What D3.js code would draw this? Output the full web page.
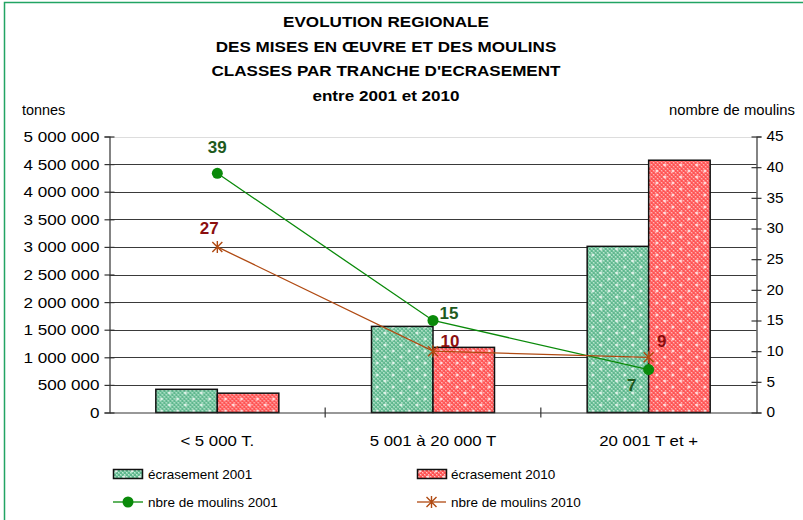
<!DOCTYPE html>
<html>
<head>
<meta charset="utf-8">
<script src="https://cdn.jsdelivr.net/npm/d3@7"></script>
<style>
  body { margin: 0; background: #fff; }
  text { font-family: "Liberation Sans", Arial, sans-serif; }
</style>
</head>
<body>
<script>
// Chart data
var categories = ["< 5 000 T.", "5 001 à 20 000 T", "20 001 T et +"];
var crush2001 = [420000, 1560000, 3010000];
var crush2010 = [350000, 1180000, 4570000];
var mills2001 = [39, 15, 7];
var mills2010 = [27, 10, 9];
var leftTicks = [0, 500000, 1000000, 1500000, 2000000, 2500000, 3000000, 3500000, 4000000, 4500000, 5000000];
var rightTicks = [0, 5, 10, 15, 20, 25, 30, 35, 40, 45];
var titleLines = ["EVOLUTION REGIONALE", "DES MISES EN ŒUVRE ET DES MOULINS",
                  "CLASSES PAR TRANCHE D'ECRASEMENT", "entre 2001 et 2010"];

var width = 803, height = 520;
var plot_left = 109.5, plot_right = 756.5, plot_top = 136.5, plot_bottom = 412.5;
var stretch = 1.22; // tick & title text looks horizontally stretched in the reference

var svg = d3.select("body").append("svg")
    .attr("width", width).attr("height", height);

// patterns for the bars
var defs = svg.append("defs");
function make_pattern(id, base, dark, light) {
    var p = defs.append("pattern").attr("id", id)
        .attr("patternUnits", "userSpaceOnUse")
        .attr("width", 16).attr("height", 12);
    p.append("rect").attr("width", 16).attr("height", 12).attr("fill", base);
    for (var i = 0; i < 8; i++) {
        for (var j = 0; j < 6; j++) {
            if ((i + j) % 2 == 0) {
                p.append("rect").attr("x", i * 2).attr("y", j * 2)
                    .attr("width", 2).attr("height", 2).attr("fill", dark);
            } else {
                p.append("rect").attr("x", i * 2).attr("y", j * 2)
                    .attr("width", 1).attr("height", 1).attr("fill", light);
            }
        }
    }
    // white crosses
    [[4, 3], [12, 9]].forEach(function (c) {
        p.append("rect").attr("x", c[0] - 1.5).attr("y", c[1] - 0.5).attr("width", 3).attr("height", 1).attr("fill", "#fff");
        p.append("rect").attr("x", c[0] - 0.5).attr("y", c[1] - 1.5).attr("width", 1).attr("height", 3).attr("fill", "#fff");
    });
}
make_pattern("pat-green", "#8ed1b0", "#5fb78e", "#c0e7d3");
make_pattern("pat-red", "#ff7a7a", "#ff5252", "#ffc0c0");

// frame
svg.append("rect").attr("x", 4.5).attr("y", 2.5)
    .attr("width", 900).attr("height", 600)
    .attr("fill", "none").attr("stroke", "#22a463").attr("stroke-width", 1.5);

// scales
var x = d3.scaleBand().domain(categories).range([plot_left, plot_right]);
var xs = d3.scaleBand().domain(["2001", "2010"])
    .range([x.bandwidth() / 2 - 61.5, x.bandwidth() / 2 + 61.5]);
var yL = d3.scaleLinear().domain([0, 5000000]).range([plot_bottom, plot_top]);
var yR = d3.scaleLinear().domain([0, 45]).range([plot_bottom, plot_top]);

var locale = d3.formatLocale({ decimal: ",", thousands: " ", grouping: [3], currency: ["", "€"] });
var fmt = locale.format(",d");

function put_text(g, px, py, txt, anchor, sx) {
    return g.append("text")
        .attr("transform", "translate(" + px + "," + py + ") scale(" + sx + ",1)")
        .attr("text-anchor", anchor)
        .text(txt);
}

// title
titleLines.forEach(function (t, i) {
    put_text(svg, 386, 27 + i * 24.7, t, "middle", stretch)
        .style("font-size", "14px").style("font-weight", "bold");
});
put_text(svg, 22, 115, "tonnes", "start", 1.03).style("font-size", "14px");
put_text(svg, 795, 115, "nombre de moulins", "end", 1.06).style("font-size", "14px");

// gridlines
svg.append("g").selectAll("line").data(leftTicks.filter(function (d) { return d > 0; }))
    .join("line")
    .attr("x1", plot_left).attr("x2", plot_right)
    .attr("y1", function (d) { return Math.round(yL(d)) + 0.5; })
    .attr("y2", function (d) { return Math.round(yL(d)) + 0.5; })
    .attr("stroke", function (d) { return d == 5000000 ? "#ddd" : "#3a3a3a"; })
    .attr("stroke-width", 1);

// bars
var groups = svg.append("g").selectAll("g").data(categories).join("g")
    .attr("transform", function (d) { return "translate(" + x(d) + ",0)"; });
groups.append("rect")
    .attr("x", xs("2001")).attr("width", xs.bandwidth())
    .attr("y", function (d, i) { return yL(crush2001[i]); })
    .attr("height", function (d, i) { return plot_bottom - yL(crush2001[i]); })
    .attr("fill", "url(#pat-green)").attr("stroke", "#111").attr("stroke-width", 1.5);
groups.append("rect")
    .attr("x", xs("2010")).attr("width", xs.bandwidth())
    .attr("y", function (d, i) { return yL(crush2010[i]); })
    .attr("height", function (d, i) { return plot_bottom - yL(crush2010[i]); })
    .attr("fill", "url(#pat-red)").attr("stroke", "#111").attr("stroke-width", 1.5);

// axes
var axisColor = "#333";
var leftAxis = d3.axisLeft(yL).tickValues(leftTicks).tickFormat(fmt).tickSize(5).tickPadding(6);
var gl = svg.append("g").attr("transform", "translate(" + plot_left + ",0)").call(leftAxis);
var rightAxis = d3.axisRight(yR).tickValues(rightTicks).tickSize(5).tickPadding(6);
var gr = svg.append("g").attr("transform", "translate(" + plot_right + ",0)").call(rightAxis);
[gl, gr].forEach(function (g) {
    g.select(".domain").attr("stroke", axisColor).attr("stroke-width", 1.2);
    g.selectAll(".tick line").attr("stroke", axisColor).attr("stroke-width", 1.2);
    g.selectAll("text").style("font-size", "14px").attr("fill", "#000")
        .style("font-family", "Liberation Sans, Arial, sans-serif");
});
// cross ticks extend inside too
gl.selectAll(".tick line").attr("x1", 5);
gr.selectAll(".tick line").attr("x1", -5);
gl.selectAll(".tick text").attr("transform", "scale(1.22,1)")
    .attr("x", -10 / 1.22).attr("dy", "0.35em");
gr.selectAll(".tick text").attr("transform", "scale(1.1,1)")
    .attr("x", 10 / 1.1);

// category axis
var bottomAxis = d3.axisBottom(x).tickSize(0).tickPadding(20);
var gb = svg.append("g").attr("transform", "translate(0," + plot_bottom + ")").call(bottomAxis);
gb.select(".domain").attr("stroke", axisColor).attr("stroke-width", 1.2);
gb.selectAll("text").style("font-size", "14px").attr("fill", "#000")
    .style("font-family", "Liberation Sans, Arial, sans-serif")
    .attr("x", 0).attr("y", 24);
gb.selectAll(".tick text").attr("transform", "scale(1.2,1)");
// separators between categories
gb.selectAll(".sep").data(categories.slice(1)).join("line").attr("class", "sep")
    .attr("x1", function (d) { return x(d); }).attr("x2", function (d) { return x(d); })
    .attr("y1", -5).attr("y2", 5).attr("stroke", axisColor).attr("stroke-width", 1.2);

// lines
function cx(i) { return x(categories[i]) + x.bandwidth() / 2; }
var mills_line = d3.line().x(function (d, i) { return cx(i); }).y(function (d) { return yR(d); });
svg.append("path").datum(mills2001).attr("d", mills_line)
    .attr("fill", "none").attr("stroke", "#0a8a0a").attr("stroke-width", 1.3);
svg.append("path").datum(mills2010).attr("d", mills_line)
    .attr("fill", "none").attr("stroke", "#b04a12").attr("stroke-width", 1.3);

svg.append("g").selectAll("circle").data(mills2001).join("circle")
    .attr("cx", function (d, i) { return cx(i); })
    .attr("cy", function (d) { return yR(d); })
    .attr("r", 5.5).attr("fill", "#0a8a0a");

function star(g, px, py, s, color) {
    var p = "M" + (px - s) + "," + (py - s) + "L" + (px + s) + "," + (py + s) +
        "M" + (px - s) + "," + (py + s) + "L" + (px + s) + "," + (py - s) +
        "M" + px + "," + (py - s - 1) + "L" + px + "," + (py + s + 1);
    g.append("path").attr("d", p).attr("stroke", color).attr("stroke-width", 1.4).attr("fill", "none");
}
mills2010.forEach(function (d, i) { star(svg, cx(i), yR(d), 5, "#b04a12"); });

// value labels (offsets as placed in the reference)
var off2001 = [[0, -20], [16, -2], [-17, 21]];
var off2010 = [[-8, -13], [17, -4], [13, -10]];
mills2001.forEach(function (d, i) {
    svg.append("text").attr("x", cx(i) + off2001[i][0]).attr("y", yR(d) + off2001[i][1])
        .attr("text-anchor", "middle").style("font-size", "17px").style("font-weight", "bold")
        .attr("fill", "#1e5a1e").text(d);
});
mills2010.forEach(function (d, i) {
    svg.append("text").attr("x", cx(i) + off2010[i][0]).attr("y", yR(d) + off2010[i][1])
        .attr("text-anchor", "middle").style("font-size", "17px").style("font-weight", "bold")
        .attr("fill", "#8b0f0f").text(d);
});

// legend
var leg = svg.append("g");
var legFont = "13.5px";
leg.append("rect").attr("x", 113.5).attr("y", 469.5).attr("width", 29).attr("height", 9)
    .attr("fill", "url(#pat-green)").attr("stroke", "#111").attr("stroke-width", 1.5);
leg.append("text").attr("x", 148).attr("y", 479).style("font-size", legFont).text("écrasement 2001");
leg.append("rect").attr("x", 417.5).attr("y", 469.5).attr("width", 29).attr("height", 9)
    .attr("fill", "url(#pat-red)").attr("stroke", "#111").attr("stroke-width", 1.5);
leg.append("text").attr("x", 451).attr("y", 479).style("font-size", legFont).text("écrasement 2010");

leg.append("line").attr("x1", 113).attr("x2", 143).attr("y1", 502).attr("y2", 502)
    .attr("stroke", "#0a8a0a").attr("stroke-width", 1.3);
leg.append("circle").attr("cx", 128).attr("cy", 502).attr("r", 5.5).attr("fill", "#0a8a0a");
leg.append("text").attr("x", 148).attr("y", 507).style("font-size", legFont).text("nbre de moulins 2001");
leg.append("line").attr("x1", 417).attr("x2", 446).attr("y1", 502).attr("y2", 502)
    .attr("stroke", "#b04a12").attr("stroke-width", 1.3);
star(leg, 431.5, 502, 5, "#b04a12");
leg.append("text").attr("x", 451).attr("y", 507).style("font-size", legFont).text("nbre de moulins 2010");
</script>
</body>
</html>
